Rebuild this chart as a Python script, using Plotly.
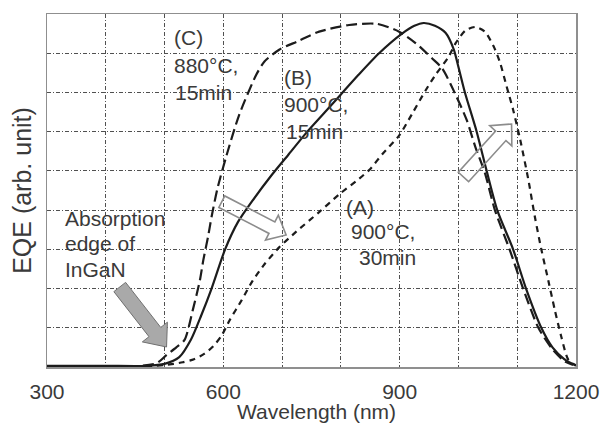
import plotly.graph_objects as go
import math

# ---------------- data ----------------
wl_A = [300, 400, 450, 480, 500, 531, 550, 568, 583, 597, 611, 631, 650, 670, 695, 724, 763, 797,
        831, 850, 870, 899, 921, 944, 961, 983, 995, 1012, 1029, 1045, 1060, 1071, 1082, 1093, 1105,
        1119, 1130, 1141, 1153, 1164, 1175, 1187, 1200]
eqe_A = [0.02, 0.02, 0.02, 0.03, 0.05, 0.12, 0.2, 0.34, 0.53, 0.8, 1.2, 1.7, 2.2, 2.62, 3.05, 3.45, 3.95, 4.4,
         4.8, 5.05, 5.42, 5.9, 6.45, 7.05, 7.45, 7.9, 8.25, 8.58, 8.67, 8.55, 8.17, 7.75, 7.15, 6.56, 5.8,
         4.77, 3.83, 3.0, 2.2, 1.45, 0.77, 0.18, 0.03]

wl_B = [300, 400, 470, 500, 525, 545, 562, 580, 603, 625, 650, 680, 710, 740, 770, 800, 830, 865,
        904, 925, 941, 960, 978, 992, 1000, 1011, 1031, 1048, 1066, 1093, 1115, 1141, 1160, 1180, 1191, 1200]
eqe_B = [0.03, 0.03, 0.03, 0.08, 0.25, 0.7, 1.3, 2.0, 3.0, 3.7, 4.25, 4.85, 5.4, 5.95, 6.45, 6.95, 7.45, 8.0,
         8.5, 8.7, 8.77, 8.7, 8.52, 8.1, 7.65, 7.0, 6.0, 5.0, 4.0, 3.0, 2.0, 1.0, 0.5, 0.2, 0.1, 0.05]

wl_C = [300, 400, 460, 487, 503, 520, 534, 548, 560, 566, 574, 580, 590, 605, 627, 656, 670, 695, 726,
        763, 814, 861, 899, 927, 955, 972, 994, 1014, 1029, 1045, 1062, 1087, 1110, 1136, 1160, 1180, 1195]
eqe_C = [0.02, 0.02, 0.03, 0.1, 0.3, 0.5, 0.69, 1.45, 2.2, 2.73, 3.32, 3.83, 4.55, 5.37, 6.43, 7.45, 7.79, 8.09, 8.3,
         8.55, 8.72, 8.75, 8.55, 8.26, 7.87, 7.62, 6.98, 6.3, 5.6, 4.95, 4.0, 3.0, 2.0, 1.0, 0.45, 0.15, 0.05]

x_tick_vals = [300, 600, 900, 1200]
x_tick_text = ["300", "600", "900", "1200"]

# ---------------- geometry helpers (plot area in pixels) ----------------
W, H = 611, 424
L, R, T, B = 47, 578, 14, 367


def pp(px, py):
    return (px - L) / (R - L), (B - py) / (B - T)


def arrow_path(tail, tip, sw, hw, hl):
    x0, y0 = tail
    x1, y1 = tip
    d = math.hypot(x1 - x0, y1 - y0)
    ux, uy = (x1 - x0) / d, (y1 - y0) / d
    nx, ny = -uy, ux
    bx, by = x1 - ux * hl, y1 - uy * hl
    pts = [
        (x0 + nx * sw / 2, y0 + ny * sw / 2),
        (bx + nx * sw / 2, by + ny * sw / 2),
        (bx + nx * hw / 2, by + ny * hw / 2),
        (x1, y1),
        (bx - nx * hw / 2, by - ny * hw / 2),
        (bx - nx * sw / 2, by - ny * sw / 2),
        (x0 - nx * sw / 2, y0 - ny * sw / 2),
    ]
    s = ""
    for i, (px, py) in enumerate(pts):
        X, Y = pp(px, py)
        s += ("M" if i == 0 else "L") + f"{X:.4f},{Y:.4f} "
    return s + "Z"


FONT = "Liberation Sans, Arial, sans-serif"
TXT = "#3a3a3a"
LINE = "#1c1c1c"

fig = go.Figure()
fig.add_trace(go.Scatter(x=wl_A, y=eqe_A, mode="lines", line=dict(color=LINE, width=2.2, dash="6px,5px",
                                                                   shape="spline", smoothing=0.7),
                         hoverinfo="skip", showlegend=False))
fig.add_trace(go.Scatter(x=wl_B, y=eqe_B, mode="lines", line=dict(color=LINE, width=2.2,
                                                                   shape="spline", smoothing=0.7),
                         hoverinfo="skip", showlegend=False))
fig.add_trace(go.Scatter(x=wl_C, y=eqe_C, mode="lines", line=dict(color=LINE, width=2.2, dash="11px,5px",
                                                                   shape="spline", smoothing=0.7),
                         hoverinfo="skip", showlegend=False))

shapes = []
# white blocks hiding the grid behind the text labels
for (xa, ya, xb, yb) in [(L, 196, 183, 293), (343, 177, 447, 292)]:
    p0 = pp(xa, yb)
    p1 = pp(xb, ya)
    shapes.append(dict(type="rect", xref="paper", yref="paper", x0=p0[0], y0=p0[1], x1=p1[0], y1=p1[1],
                       fillcolor="white", line=dict(width=0), layer="between"))
# filled grey arrow
shapes.append(dict(type="path", xref="paper", yref="paper",
                   path=arrow_path((120, 287), (167, 347), 15, 32, 19),
                   fillcolor="#a9a9a9", line=dict(color="#707070", width=1), layer="above"))
# hollow arrows
shapes.append(dict(type="path", xref="paper", yref="paper",
                   path=arrow_path((222.5, 201.7), (287, 235), 13, 28, 16),
                   fillcolor="rgba(0,0,0,0)", line=dict(color="#8c8c8c", width=1.6), layer="above"))
shapes.append(dict(type="path", xref="paper", yref="paper",
                   path=arrow_path((465, 177), (513.3, 124), 14, 30, 16),
                   fillcolor="rgba(0,0,0,0)", line=dict(color="#8c8c8c", width=1.6), layer="above"))

annotations = []
labels = [
    ("(C)", 172, 38), ("880°C,", 172, 65.5), ("15min", 173, 93),
    ("(B)", 283, 77), ("900°C,", 283, 104.5), ("15min", 285, 131.5),
    ("(A)", 345, 207.5), ("900°C,", 350, 231.5), ("30min", 358, 257),
    ("Absorption", 63, 219), ("edge of", 63, 244), ("InGaN", 63, 269.5),
]
for text, px, py in labels:
    X, Y = pp(px, py)
    annotations.append(dict(text=text, x=X, y=Y, xref="paper", yref="paper", xanchor="left", yanchor="middle",
                            showarrow=False, font=dict(family=FONT, size=21, color=TXT)))

# x-axis title placed as text below the tick labels
tx, ty = pp(318, 411)
annotations.append(dict(text="Wavelength (nm)", x=tx, y=ty, xref="paper", yref="paper",
                        xanchor="center", yanchor="middle", showarrow=False,
                        font=dict(family=FONT, size=21, color=TXT)))

grid = dict(showgrid=True, gridcolor="#505050", gridwidth=1, griddash="4px,2px,1px,2px")

fig.update_layout(
    width=W, height=H,
    margin=dict(l=L, r=W - R, t=T, b=H - B),
    paper_bgcolor="white", plot_bgcolor="white",
    font=dict(family=FONT, color=TXT),
    shapes=shapes, annotations=annotations,
    xaxis=dict(range=[300, 1200], tickvals=x_tick_vals, ticktext=x_tick_text, ticks="",
               tickfont=dict(size=21, color=TXT), ticklabelstandoff=5,
               showline=True, linecolor="#8f8f8f", linewidth=1.5, mirror=True, zeroline=False,
               minor=dict(dtick=100, tick0=300, showgrid=True, gridcolor="#505050", gridwidth=1,
                          griddash="4px,2px,1px,2px", ticks=""),
               **grid),
    yaxis=dict(range=[0, 9], dtick=1, showticklabels=False, ticks="",
               showline=True, linecolor="#8f8f8f", linewidth=1.5, mirror=True, zeroline=False,
               title=dict(text="EQE (arb. unit)", font=dict(size=25, color=TXT), standoff=7),
               **grid),
)

fig.write_html("out.html", config={"displayModeBar": False, "staticPlot": True},
               post_script="document.body.style.margin='0';document.body.style.overflow='hidden';")
